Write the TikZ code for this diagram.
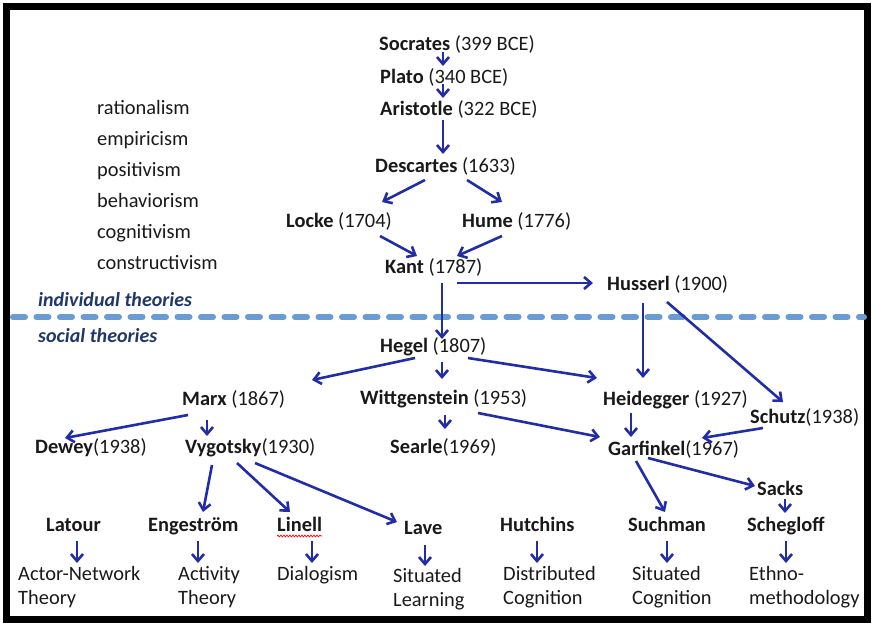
\documentclass[tikz,border=0pt]{standalone}
\usepackage{fontspec}
\setmainfont{Carlito}
\usetikzlibrary{arrows.meta,decorations.pathmorphing}
\definecolor{arrblue}{RGB}{33,45,168}
\definecolor{txt}{RGB}{25,25,25}
\definecolor{navy}{RGB}{32,56,105}
\definecolor{dashblue}{RGB}{104,156,210}
\tikzset{
  lbl/.style={anchor=base west, inner sep=0pt, text=txt, font=\fontsize{20.4}{24}\selectfont},
  multi/.style={lbl, align=left},
  theory/.style={lbl, text=navy, font=\fontsize{20}{24}\selectfont\bfseries\itshape},
  arr/.style={draw=arrblue, line width=2.6pt, -{Straight Barb[length=7pt,width=12pt]}},
  dashline/.style={draw=dashblue, line width=6pt, line cap=round, dash pattern=on 12pt off 11.5pt},
  frame/.style={draw=black, line width=7pt}
}
\begin{document}
\begin{tikzpicture}[x=1pt,y=-1pt]
\useasboundingbox (0,0) rectangle (873,625);
\draw[frame] (6.5,6.5) rectangle (867.5,619.5);
% separator
\coordinate (fl) at (13,317);
\coordinate (fr) at (864,317);
\draw[dashline] (fl) -- (fr);
% left list
\node[lbl] (rat) at (97,114) {rationalism};
\node[lbl] (emp) at (97,145) {empiricism};
\node[lbl] (pos) at (97,176) {positivism};
\node[lbl] (beh) at (97,207) {behaviorism};
\node[lbl] (cog) at (97,238) {cognitivism};
\node[lbl] (con) at (97,269) {constructivism};
\node[theory] (ind) at (38,306) {individual theories};
\node[theory] (soct) at (38,342) {social theories};
% people
\node[lbl] (soc) at (379,50) {\textbf{Socrates} (399 BCE)};
\node[lbl] (pla) at (380,83) {\textbf{Plato} (340 BCE)};
\node[lbl] (ari) at (380,115) {\textbf{Aristotle} (322 BCE)};
\node[lbl] (des) at (375,172) {\textbf{Descartes} (1633)};
\node[lbl] (loc) at (286,227) {\textbf{Locke} (1704)};
\node[lbl] (hum) at (462,227) {\textbf{Hume} (1776)};
\node[lbl] (kan) at (385,273) {\textbf{Kant} (1787)};
\node[lbl] (hus) at (607,290) {\textbf{Husserl} (1900)};
\node[lbl] (heg) at (380,352) {\textbf{Hegel} (1807)};
\node[lbl] (mar) at (182,405) {\textbf{Marx} (1867)};
\node[lbl] (wit) at (360,404) {\textbf{Wittgenstein} (1953)};
\node[lbl] (hei) at (603,405) {\textbf{Heidegger} (1927)};
\node[lbl] (sch) at (750,423) {\textbf{Schutz}(1938)};
\node[lbl] (dew) at (35,453) {\textbf{Dewey}(1938)};
\node[lbl] (vyg) at (185,453) {\textbf{Vygotsky}(1930)};
\node[lbl] (sea) at (390,453) {\textbf{Searle}(1969)};
\node[lbl] (gar) at (608,455) {\textbf{Garfinkel}(1967)};
\node[lbl] (sac) at (757,495) {\textbf{Sacks}};
\node[lbl] (lat) at (46,531) {\textbf{Latour}};
\node[lbl] (eng) at (148,531) {\textbf{Engeström}};
\node[lbl] (lin) at (277,531) {\textbf{Linell}};
\node[lbl] (lav) at (404,534) {\textbf{Lave}};
\node[lbl] (hut) at (500,531) {\textbf{Hutchins}};
\node[lbl] (suc) at (628,531) {\textbf{Suchman}};
\node[lbl] (seg) at (747,531) {\textbf{Schegloff}};
% theories (base anchor = baseline of the last line)
\node[multi] (ant) at (18,604) {Actor-Network\\Theory};
\node[multi] (act) at (178,604) {Activity\\Theory};
\node[multi] (dia) at (277,580) {Dialogism};
\node[multi] (sil) at (393,606) {Situated\\Learning};
\node[multi] (dis) at (503,604) {Distributed\\Cognition};
\node[multi] (sic) at (632,604) {Situated\\Cognition};
\node[multi] (eth) at (749,604) {Ethno-\\methodology};
% spell-check squiggle under Linell
\draw[red, line width=0.7pt, decorate, decoration={snake,amplitude=0.9pt,segment length=3pt}]
  ([shift={(0,5)}]lin.base west) -- ([shift={(0,5)}]lin.base east);
% connectors
\draw[arr] ([shift={(64,2)}]soc.base west) -- ([shift={(63,-17)}]pla.base west);
\draw[arr] ([shift={(63,1)}]pla.base west) -- ([shift={(63,-17)}]ari.base west);
\draw[arr] ([shift={(63,5)}]ari.base west) -- ([shift={(68,-18)}]des.base west);
\draw[arr] ([shift={(50,8)}]des.base west) -- ([shift={(96,-25)}]loc.base west);
\draw[arr] ([shift={(92,8)}]des.base west) -- ([shift={(40,-25)}]hum.base west);
\draw[arr] ([shift={(94,9)}]loc.base west) -- ([shift={(32,-17)}]kan.base west);
\draw[arr] ([shift={(40,9)}]hum.base west) -- ([shift={(72,-17)}]kan.base west);
\draw[arr] ([shift={(72,10)}]kan.base west) -- ([shift={(-14,-7)}]hus.base west);
\draw[arr] ([shift={(57,10)}]kan.base west) -- ([shift={(62,-13)}]heg.base west);
\draw[arr] ([shift={(36,13)}]hus.base west) -- ([shift={(40,-27)}]hei.base west);
\draw[arr] ([shift={(60,12)}]hus.base west) -- ([shift={(33,-21)}]sch.base west);
\draw[arr] ([shift={(35,6)}]heg.base west) -- ([shift={(130,-25)}]mar.base west);
\draw[arr] ([shift={(62,10)}]heg.base west) -- ([shift={(82,-25)}]wit.base west);
\draw[arr] ([shift={(88,6)}]heg.base west) -- ([shift={(-6,-27)}]hei.base west);
\draw[arr] ([shift={(6,10)}]mar.base west) -- ([shift={(30,-15)}]dew.base west);
\draw[arr] ([shift={(25,15)}]mar.base west) -- ([shift={(22,-17)}]vyg.base west);
\draw[arr] ([shift={(85,11)}]wit.base west) -- ([shift={(55,-24)}]sea.base west);
\draw[arr] ([shift={(118,9)}]wit.base west) -- ([shift={(-8,-18)}]gar.base west);
\draw[arr] ([shift={(28,8)}]hei.base west) -- ([shift={(23,-18)}]gar.base west);
\draw[arr] ([shift={(13,5)}]sch.base west) -- ([shift={(94,-17)}]gar.base west);
\draw[arr] ([shift={(40,3)}]gar.base west) -- ([shift={(-2,-9)}]sac.base west);
\draw[arr] ([shift={(28,6)}]gar.base west) -- ([shift={(37,-19)}]suc.base west);
\draw[arr] ([shift={(28,4)}]sac.base west) -- ([shift={(38,-18)}]seg.base west);
\draw[arr] ([shift={(27,12)}]vyg.base west) -- ([shift={(55,-19)}]eng.base west);
\draw[arr] ([shift={(52,10)}]vyg.base west) -- ([shift={(13,-19)}]lin.base west);
\draw[arr] ([shift={(70,10)}]vyg.base west) -- ([shift={(-7,-12)}]lav.base west);
\draw[arr] ([shift={(31,10)}]lat.base west) -- ([shift={(59,-41)}]ant.base west);
\draw[arr] ([shift={(50,10)}]eng.base west) -- ([shift={(20,-41)}]act.base west);
\draw[arr] ([shift={(35,10)}]lin.base west) -- ([shift={(35,-17)}]dia.base west);
\draw[arr] ([shift={(21,11)}]lav.base west) -- ([shift={(32,-40)}]sil.base west);
\draw[arr] ([shift={(37,10)}]hut.base west) -- ([shift={(34,-41)}]dis.base west);
\draw[arr] ([shift={(39,10)}]suc.base west) -- ([shift={(35,-41)}]sic.base west);
\draw[arr] ([shift={(39,10)}]seg.base west) -- ([shift={(37,-41)}]eth.base west);
\end{tikzpicture}
\end{document}
